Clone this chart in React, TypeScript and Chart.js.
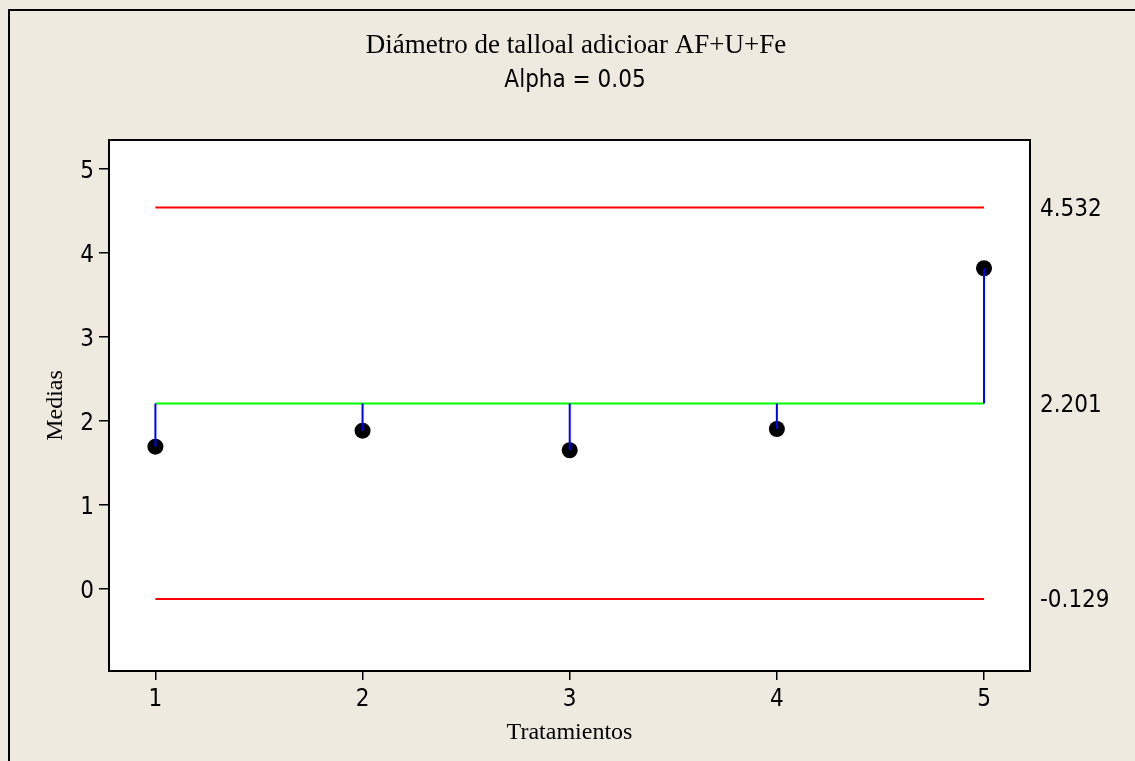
import React, { useEffect, useRef } from 'react';
import { Chart, registerables } from 'chart.js';

Chart.register(...registerables);

const TITLE = 'Diámetro de talloal adicioar AF+U+Fe';
const SUBTITLE = 'Alpha = 0.05';
const X_LABEL = 'Tratamientos';
const Y_LABEL = 'Medias';

const treatments = [1, 2, 3, 4, 5];
const means = [1.686, 1.876, 1.643, 1.896, 3.81];
const centerLine = 2.201;
const upperLimit = 4.532;
const lowerLimit = -0.129;

const xTicks = [1, 2, 3, 4, 5];
const yTicks = [0, 1, 2, 3, 4, 5];
const xRange = [0.776, 5.222];
const yRange = [-0.985, 5.337];

const BG = '#EEEAE0';
const SANS = '"DejaVu Sans Condensed", "Noto Sans", "DejaVu Sans", sans-serif';
const SERIF = '"Liberation Serif", "Times New Roman", serif';

export default function App() {
  const ref = useRef<HTMLCanvasElement | null>(null);

  useEffect(() => {
    const canvas = ref.current;
    if (!canvas) return;

    const limitLine = (v: number) => [
      { x: treatments[0], y: v },
      { x: treatments[treatments.length - 1], y: v },
    ];
    const stems = treatments.flatMap((t, i) => [
      { x: t, y: centerLine },
      { x: t, y: means[i] },
      { x: t, y: null as any },
    ]);
    const points = treatments.map((t, i) => ({ x: t, y: means[i] }));

    const decor = {
      id: 'decor',
      beforeDraw(chart: any) {
        const { ctx, chartArea: a } = chart;
        ctx.save();
        ctx.fillStyle = BG;
        ctx.fillRect(0, 0, chart.width, chart.height);
        ctx.fillStyle = '#000';
        ctx.fillRect(8, 9, chart.width, 2);
        ctx.fillRect(8, 9, 2, chart.height);
        ctx.fillStyle = '#fff';
        ctx.fillRect(a.left, a.top, a.right - a.left, a.bottom - a.top);
        ctx.restore();
      },
      afterDraw(chart: any) {
        const { ctx, chartArea: a, scales } = chart;
        ctx.save();
        ctx.strokeStyle = '#000';
        ctx.lineWidth = 2;
        ctx.strokeRect(a.left, a.top, a.right - a.left, a.bottom - a.top);
        // titles
        ctx.fillStyle = '#000';
        ctx.textAlign = 'center';
        ctx.textBaseline = 'alphabetic';
        ctx.font = `27px ${SERIF}`;
        ctx.fillText(TITLE, 576, 53);
        ctx.font = `24px ${SANS}`;
        ctx.fillText(SUBTITLE, 575, 87);
        // limit value labels
        ctx.textAlign = 'left';
        ctx.textBaseline = 'middle';
        ctx.font = `24px ${SANS}`;
        [upperLimit, centerLine, lowerLimit].forEach((v) => {
          ctx.fillText(v.toFixed(3), a.right + 10, scales.y.getPixelForValue(v) + 2);
        });
        ctx.restore();
      },
    };

    const chart = new Chart(canvas, {
      type: 'scatter',
      data: {
        datasets: [
          {
            data: limitLine(upperLimit),
            showLine: true,
            borderColor: '#FF0000',
            borderWidth: 2,
            pointRadius: 0,
          },
          {
            data: limitLine(lowerLimit),
            showLine: true,
            borderColor: '#FF0000',
            borderWidth: 2,
            pointRadius: 0,
          },
          {
            data: stems,
            showLine: true,
            spanGaps: false,
            borderColor: '#0000FF',
            borderWidth: 2,
            pointRadius: 0,
          },
          {
            data: limitLine(centerLine),
            showLine: true,
            borderColor: '#00FF00',
            borderWidth: 2,
            pointRadius: 0,
          },
          {
            data: points,
            showLine: false,
            pointRadius: 8,
            pointBackgroundColor: '#000',
            pointBorderColor: '#000',
            pointBorderWidth: 0,
          },
        ] as any,
      },
      options: {
        responsive: false,
        animation: false,
        devicePixelRatio: 1,
        layout: { padding: { top: 140, right: 105, bottom: 0, left: 0 } },
        plugins: {
          legend: { display: false },
          tooltip: { enabled: false },
          title: { display: false },
        },
        scales: {
          x: {
            type: 'linear',
            min: xRange[0],
            max: xRange[1],
            afterBuildTicks: (s: any) => {
              s.ticks = xTicks.map((v) => ({ value: v }));
            },
            afterFit: (s: any) => {
              s.height = 90;
            },
            grid: {
              display: true,
              drawOnChartArea: false,
              drawTicks: true,
              tickLength: 9,
              color: '#000',
              lineWidth: 1.5,
            },
            border: { display: true, color: '#000', width: 2 },
            ticks: {
              color: '#000',
              padding: 5,
              font: { family: SANS, size: 24 },
              callback: (v: any) => String(v),
            },
            title: {
              display: true,
              text: X_LABEL,
              color: '#000',
              font: { family: SERIF, size: 24 },
              padding: { top: 0, bottom: 14 },
            },
          },
          y: {
            type: 'linear',
            min: yRange[0],
            max: yRange[1],
            afterBuildTicks: (s: any) => {
              s.ticks = yTicks.map((v) => ({ value: v }));
            },
            afterFit: (s: any) => {
              s.width = 109;
            },
            grid: {
              display: true,
              drawOnChartArea: false,
              drawTicks: true,
              tickLength: 10,
              color: '#000',
              lineWidth: 1.5,
            },
            border: { display: true, color: '#000', width: 2 },
            ticks: {
              color: '#000',
              padding: 5,
              labelOffset: 3,
              font: { family: SANS, size: 24 },
              callback: (v: any) => String(v),
            },
            title: {
              display: true,
              text: Y_LABEL,
              color: '#000',
              font: { family: SERIF, size: 24 },
              padding: { top: 41, bottom: 0 },
            },
          },
        },
      } as any,
      plugins: [decor],
    });

    return () => chart.destroy();
  }, []);

  return (
    <div style={{ position: 'fixed', left: 0, top: 0, width: 1135, height: 761, background: BG }}>
      <canvas ref={ref} width={1135} height={761} style={{ display: 'block', width: 1135, height: 761 }} />
    </div>
  );
}
